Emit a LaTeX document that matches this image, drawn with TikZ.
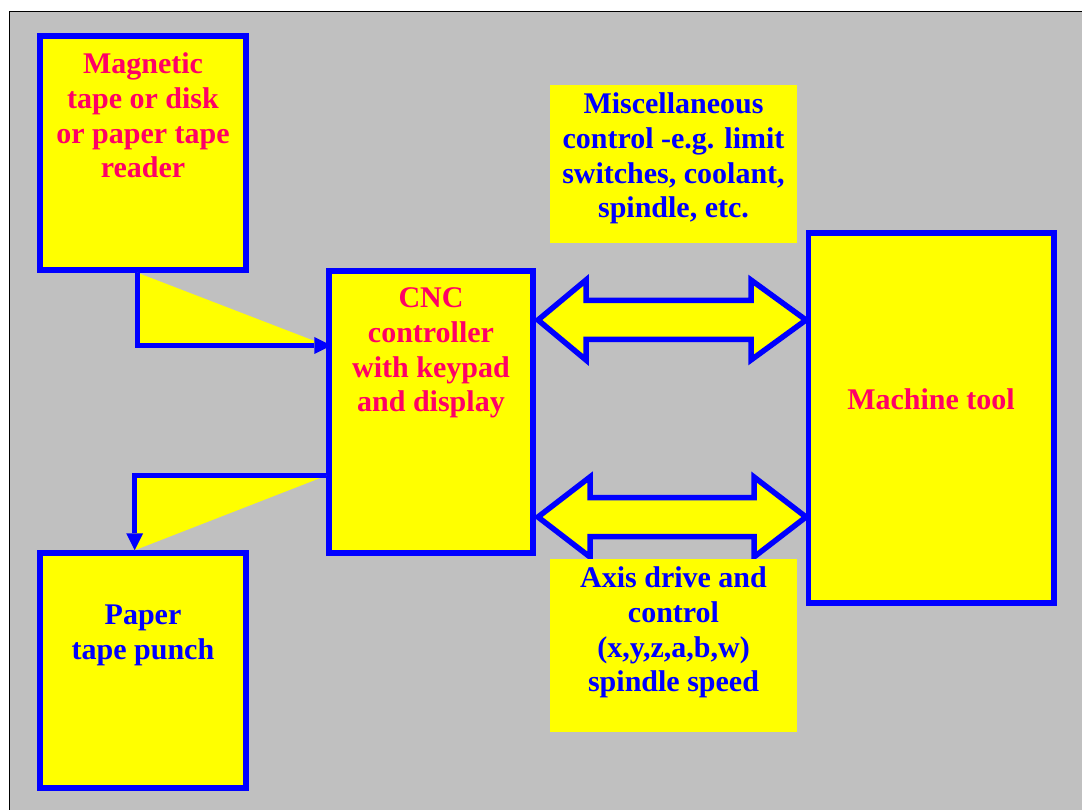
\documentclass[tikz,border=0pt]{standalone}
\usepackage{fontspec}
\setmainfont{Liberation Serif}
\usetikzlibrary{arrows.meta}
\definecolor{tipred}{RGB}{255,0,102}
\definecolor{panel}{RGB}{192,192,192}
\definecolor{boxyellow}{RGB}{255,255,0}
\definecolor{edgeblue}{RGB}{0,0,255}

\begin{document}
\begin{tikzpicture}[x=1pt,y=-1pt,
	unit/.style={draw=edgeblue,fill=boxyellow,line width=5.5pt,inner sep=0pt},
	note/.style={fill=boxyellow,inner sep=0pt},
	redtxt/.style={text=tipred,font=\bfseries\fontsize{30}{34.7}\selectfont,align=center,anchor=north,inner sep=0pt},
	bluetxt/.style={redtxt,text=edgeblue},
	link/.style={edgeblue,line width=5pt,-{Triangle[length=17pt,width=17pt,line width=0pt]}},
	duplex/.style={draw=edgeblue,fill=boxyellow,line width=5.5pt,line join=miter}]
	\useasboundingbox (0,0) rectangle (1082,810);
	\fill[panel] (9.5,11.5) rectangle (1082,810);
	\draw[line width=1.5pt] (9.5,810) -- (9.5,11.5) -- (1082,11.5);
	% two way links between controller and machine
	\foreach \y/\a/\b in {320/586/751,517/590/754}
		\draw[duplex] (538,\y) -- (\a,\y-40) -- (\a,\y-19.5) -- (\b,\y-19.5) -- (\b,\y-40) -- (806,\y)
			-- (\b,\y+40) -- (\b,\y+19.5) -- (\a,\y+19.5) -- (\a,\y+40) -- cycle;
	\node[unit,minimum width=206,minimum height=234] (reader) at (143,153) {};
	\node[unit,minimum width=206,minimum height=235] (punch) at (143,670.5) {};
	\node[unit,minimum width=204,minimum height=282] (cnc) at (431,412) {};
	\node[unit,minimum width=245.5,minimum height=370] (mach) at (931.25,418) {};
	\node[note,minimum width=247,minimum height=158] (misc) at (673.5,164) {};
	\node[note,minimum width=247,minimum height=173] (axis) at (673.5,645.5) {};
	\node[redtxt] (readertxt) at (143,52.7) {Magnetic\\tape or disk\\or paper tape\\reader};
	\node[redtxt] (cnctxt) at (431,287.7) {CNC\\controller\\with keypad\\and display};
	\node[bluetxt] (punchtxt) at (143,604.7) {Paper\\tape punch};
	\node[redtxt] (machtxt) at (931,388.7) {Machine tool};
	\node[bluetxt] (misctxt) at (673.5,92.7) {Miscellaneous\\control -e.g. limit\\switches, coolant,\\spindle, etc.};
	\node[bluetxt] (axistxt) at (673.5,566.7) {Axis drive and\\control\\(x,y,z,a,b,w)\\spindle speed};
	% tape in and tape out
	\coordinate (rbend) at (137.5,345.5);
	\coordinate (pbend) at (134.7,475.7);
	\fill[boxyellow] (reader.south -| rbend) -- (rbend) -- (rbend -| cnc.west) -- cycle;
	\fill[boxyellow] (pbend -| cnc.west) -- (pbend) -- (punch.north -| pbend) -- cycle;
	\draw[link,shorten >=-5pt] (reader.south -| rbend) -- (rbend) -- (rbend -| cnc.west);
	\draw[link] (pbend -| cnc.west) -- (pbend) -- (punch.north -| pbend);
\end{tikzpicture}
\end{document}
